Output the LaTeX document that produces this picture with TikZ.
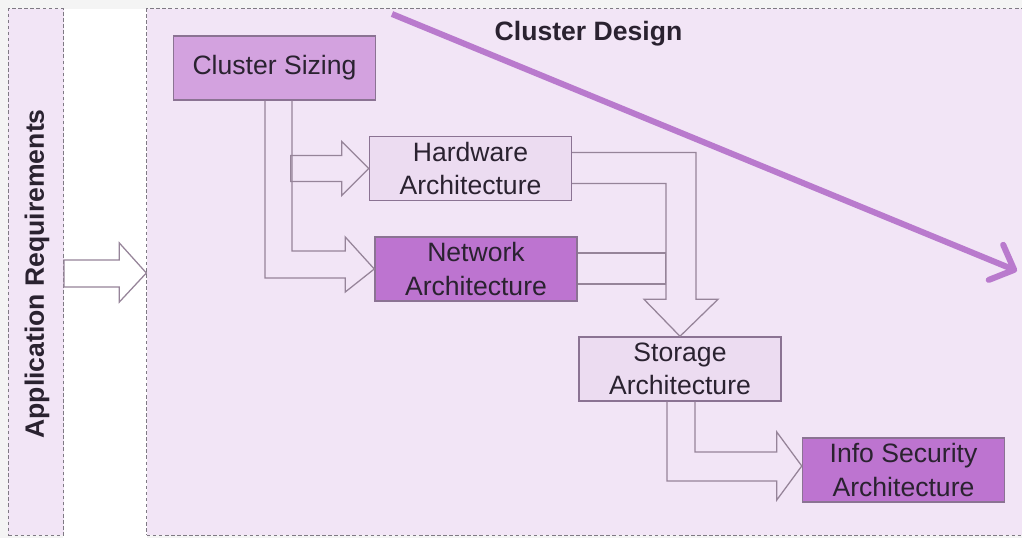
\documentclass[tikz,border=0pt]{standalone}
\usepackage{fontspec}
\setmainfont{Liberation Sans}
\usetikzlibrary{arrows.meta, positioning, calc}

\definecolor{paper}{HTML}{F4F4F4}
\definecolor{lilac}{HTML}{F2E5F6}
\definecolor{boxlight}{HTML}{ECDCF1}
\definecolor{boxmid}{HTML}{D3A2DF}
\definecolor{boxdark}{HTML}{BD74D0}
\definecolor{boxline}{HTML}{8B7393}
\definecolor{flowline}{HTML}{968499}
\definecolor{dashline}{HTML}{7F7A84}
\definecolor{trendline}{HTML}{B97ACD}
\definecolor{ink}{HTML}{2A2230}

\tikzset{
  panel/.style={rectangle, draw=dashline, fill=lilac, dashed,
                dash pattern=on 2.5pt off 1.8pt, line width=0.75pt, inner sep=0pt},
  boxbase/.style={rectangle, draw=boxline, line width=1pt, text=ink,
                  minimum width=5.05cm, minimum height=1.6cm, inner sep=0pt,
                  align=center, font=\fontsize{18.9pt}{23.5pt}\selectfont},
  lightbox/.style={boxbase, fill=boxlight},
  midbox/.style={boxbase, fill=boxmid},
  darkbox/.style={boxbase, fill=boxdark},
  heading/.style={text=ink, inner sep=0pt,
                  font=\fontsize{18.9pt}{23.5pt}\selectfont\bfseries},
  hollow/.style={draw=flowline, line width=0.9pt, line join=miter},
  trend/.style={draw=trendline, line width=4.3pt,
                -{Straight Barb[length=14pt, width=27pt, round]}},
}

\begin{document}
\begin{tikzpicture}[x=0.025cm, y=-0.025cm]

  \useasboundingbox (0,0) rectangle (1022,538);
  \fill[paper] (0,0) rectangle (1022,538);
  \fill[white] (63,9) rectangle (147,538);

  % =====================================================
  % PANELS
  % =====================================================

  \node[panel, minimum width=1.375cm, minimum height=13.15cm]
    (apps) at (36,272) {};

  \node[heading, rotate=90] (appstext) at (37,274)
    {Application Requirements};

  \node[panel, minimum width=22.075cm, minimum height=13.15cm]
    (design) at (588.5,272) {};

  \node[heading, below=0.31cm of design.north] (title)
    {Cluster Design};

  % =====================================================
  % DESIGN STEPS
  % =====================================================

  \node[midbox] (sizing) at (274.5,68) {Cluster Sizing};

  \node[lightbox] (hw) at (470.5,168.5) {Hardware\\Architecture};

  \node[darkbox] (net) at (476,269) {Network\\Architecture};

  \node[lightbox] (st) at (680,369) {Storage\\Architecture};

  \node[darkbox] (info) at (903.5,470) {Info Security\\Architecture};

  % =====================================================
  % BLOCK ARROWS
  % =====================================================

  % requirements into design
  \draw[hollow]
    ($(apps.east)+(0,-12)$) -- ($(design.west)+(-27,-12)$)
    -- ++(0,-17) -- ($(design.west)+(0,1)$) -- ++(-27,29)
    -- ++(0,-15) -- ($(apps.east)+(0,15)$) -- cycle;

  % sizing down into network
  \draw[hollow]
    ($(sizing.south)+(-9.5,0)$) |- ($(net.west)+(-29,9)$)
    -- ++(0,14) -- (net.west) -- ++(-29,-32)
    -- ++(0,14) -| ($(sizing.south)+(17.5,0)$);

  % sizing across into hardware
  \draw[hollow]
    ($(hw.west)+(-78,-13)$) -- ++(51,0) -- ++(0,-14)
    -- (hw.west) -- ++(-27,27) -- ++(0,-14) -- ++(-51,0) -- cycle;

  % hardware down into storage
  \draw[hollow]
    ($(hw.east)+(0,-16)$) -| ($(st.north)+(16,-37)$)
    -- ++(22,0) -- (st.north) -- ++(-36,-37)
    -- ++(22,0) |- ($(hw.east)+(0,15)$);

  % network joins the same shaft
  \draw[hollow]
    ($(net.east)+(0,-16)$) -| ($(net.east)+(88,15)$)
    -- ($(net.east)+(0,15)$);

  % storage into info security
  \draw[hollow]
    ($(st.south)+(15,0)$) |- ($(info.west)+(-25,-18)$)
    -- ++(0,-20) -- ($(info.west)+(0,-4)$) -- ++(-25,34)
    -- ++(0,-19) -| ($(st.south)+(-13,0)$);

  % =====================================================
  % OVERALL DIRECTION
  % =====================================================

  \coordinate (trendA) at (392,14);
  \coordinate (trendB) at (1017,271);

  \draw[trend] (trendA) -- (trendB);

\end{tikzpicture}
\end{document}
